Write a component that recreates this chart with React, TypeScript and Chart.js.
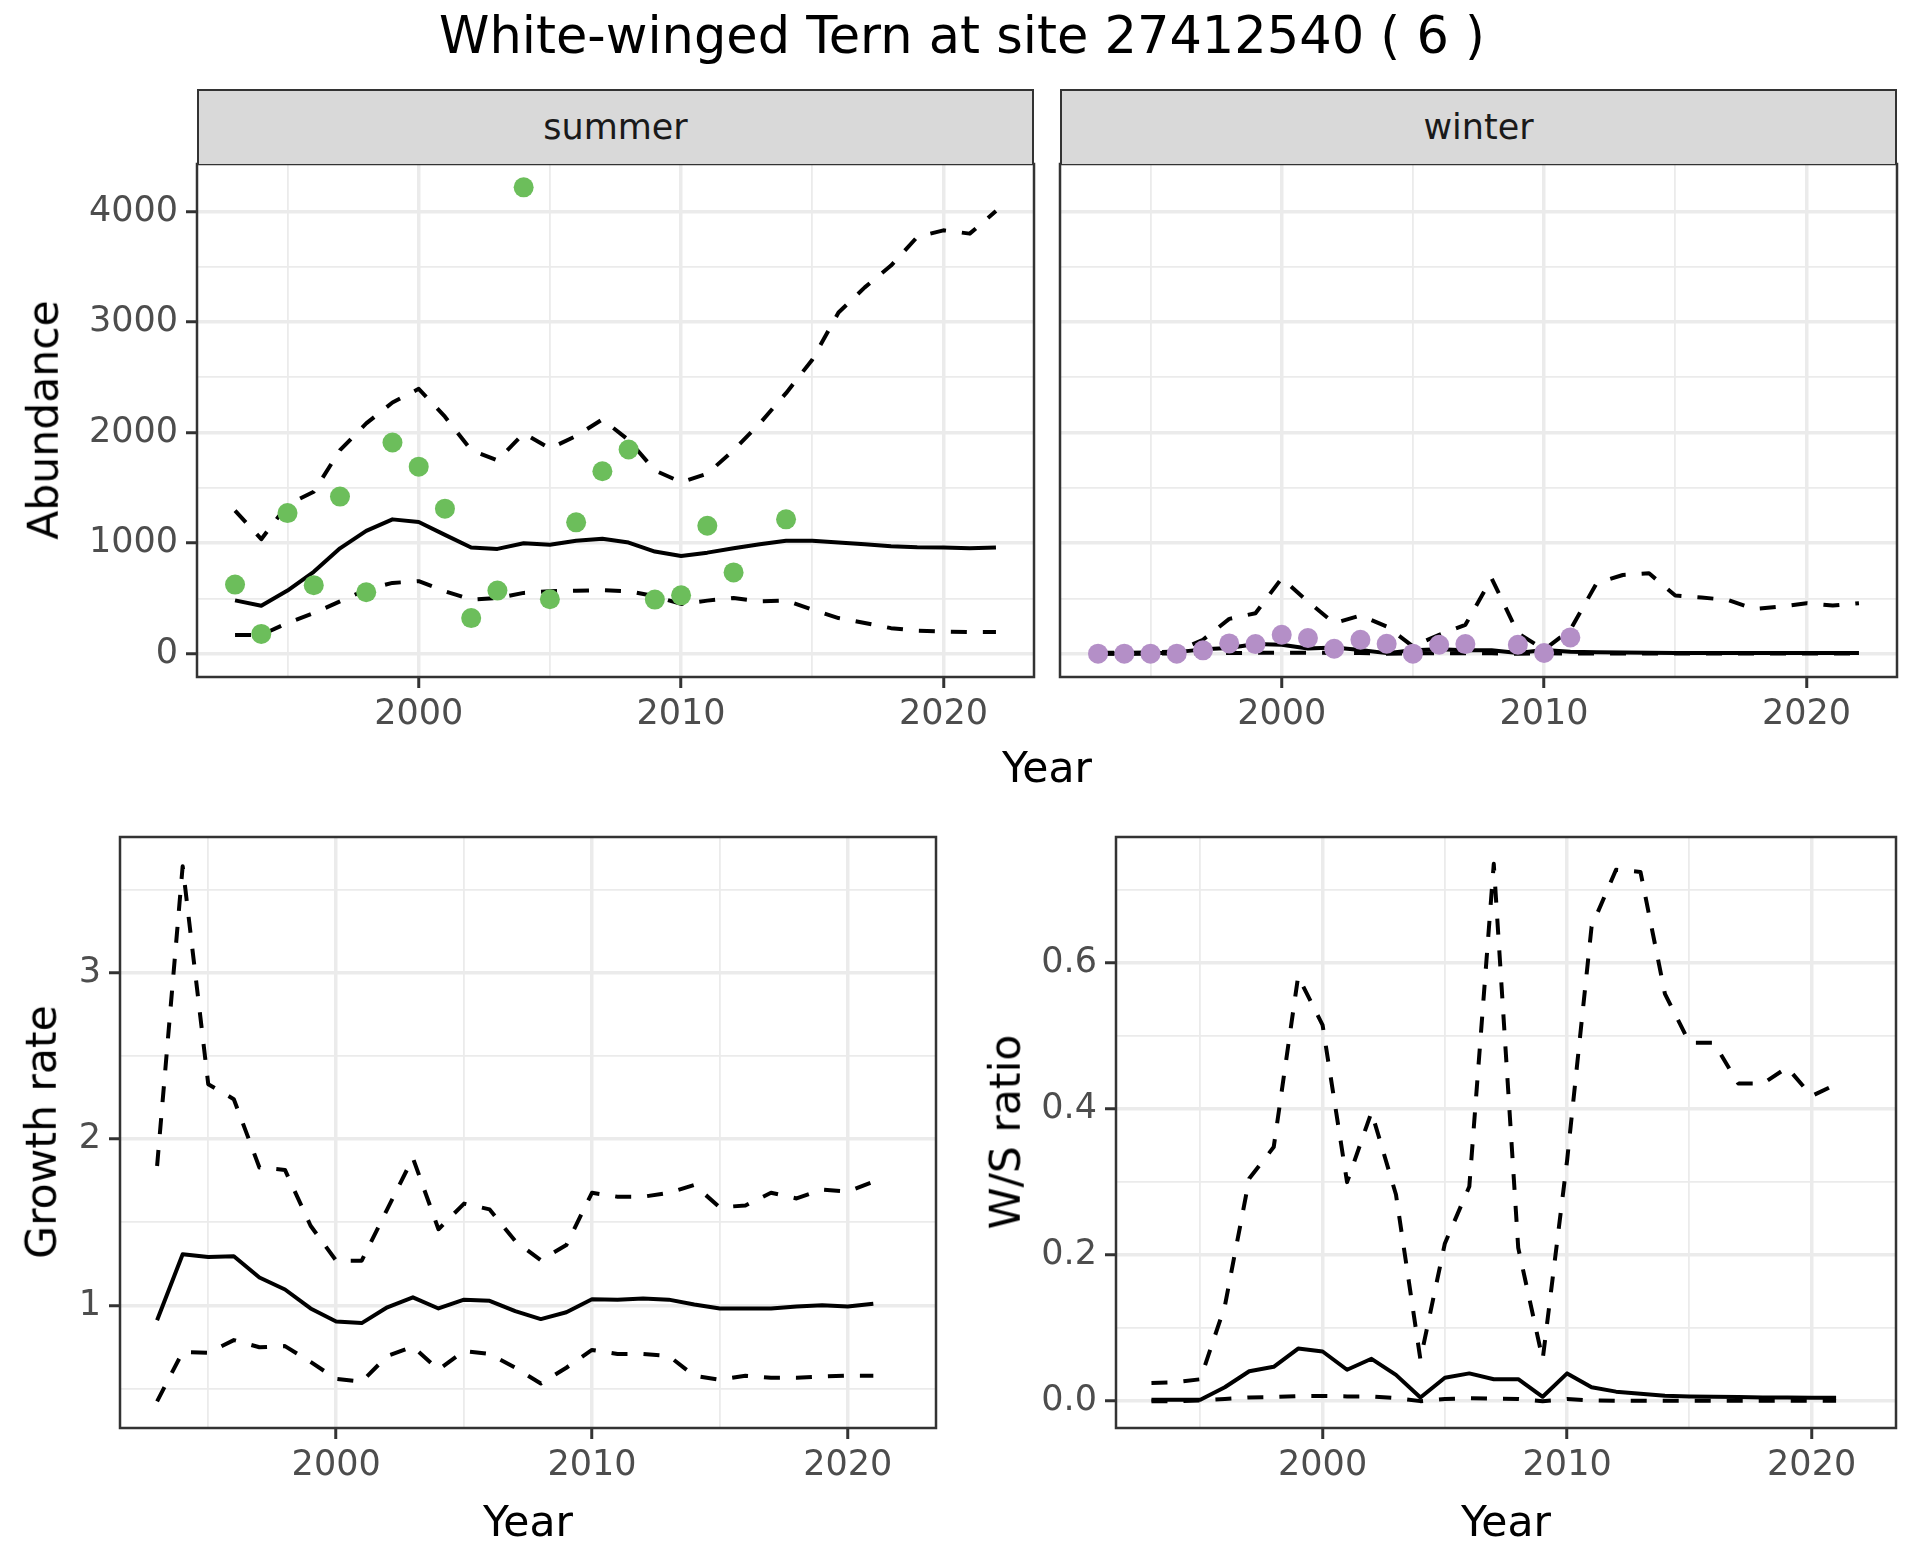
import React, { useEffect, useRef } from "react";
import { Chart, registerables } from "chart.js";

Chart.register(...registerables);

// ---------------- data ----------------
const years = [1993, 1994, 1995, 1996, 1997, 1998, 1999, 2000, 2001, 2002, 2003, 2004, 2005, 2006, 2007, 2008, 2009, 2010, 2011, 2012, 2013, 2014, 2015, 2016, 2017, 2018, 2019, 2020, 2021, 2022];

const summerMean = [482, 434, 571, 741, 953, 1111, 1215, 1191, 1075, 960, 948, 999, 985, 1021, 1039, 1005, 924, 884, 914, 953, 990, 1021, 1021, 1005, 990, 972, 962, 960, 953, 960];
const summerLower = [170, 170, 277, 367, 473, 580, 640, 656, 565, 489, 504, 550, 565, 570, 575, 565, 520, 450, 480, 504, 473, 480, 398, 322, 277, 231, 207, 200, 196, 196];
const summerUpper = [1294, 1036, 1346, 1465, 1841, 2083, 2272, 2396, 2144, 1841, 1749, 1993, 1856, 1969, 2120, 1932, 1658, 1552, 1628, 1841, 2083, 2357, 2660, 3086, 3314, 3511, 3770, 3830, 3800, 4004];
const summerObsYears = [1993, 1994, 1995, 1996, 1997, 1998, 1999, 2000, 2001, 2002, 2003, 2004, 2005, 2006, 2007, 2008, 2009, 2010, 2011, 2012, 2014];
const summerObs = [625, 179, 1272, 620, 1421, 556, 1910, 1692, 1312, 322, 571, 4219, 492, 1188, 1650, 1847, 489, 528, 1157, 735, 1215];

const winterMean = [1, 1, 2, 14, 39, 52, 87, 81, 46, 56, 34, 5, 32, 39, 31, 30, 6, 34, 17, 12, 10, 8, 7, 6, 5, 5, 5, 5, 5, 5];
const winterLower = [0, 0, 1, 2, 4, 6, 8, 9, 8, 7, 5, 0, 3, 4, 4, 3, 0, 3, 1, 1, 1, 1, 1, 1, 1, 1, 1, 1, 1, 1];
const winterUpper = [8, 8, 10, 20, 126, 315, 366, 682, 471, 276, 345, 246, 66, 171, 261, 682, 186, 36, 216, 637, 712, 727, 526, 508, 486, 405, 426, 456, 435, 456];
const winterObsYears = [1993, 1994, 1995, 1996, 1997, 1998, 1999, 2000, 2001, 2002, 2003, 2004, 2005, 2006, 2007, 2009, 2010, 2011];
const winterObs = [0, 0, 0, 0, 30, 93, 87, 171, 141, 45, 126, 90, 0, 81, 87, 81, 6, 147];

const rateYears = [1993, 1994, 1995, 1996, 1997, 1998, 1999, 2000, 2001, 2002, 2003, 2004, 2005, 2006, 2007, 2008, 2009, 2010, 2011, 2012, 2013, 2014, 2015, 2016, 2017, 2018, 2019, 2020, 2021];
const growthMean = [0.912, 1.309, 1.292, 1.297, 1.169, 1.097, 0.983, 0.905, 0.895, 0.99, 1.05, 0.983, 1.036, 1.029, 0.967, 0.919, 0.96, 1.038, 1.036, 1.043, 1.036, 1.007, 0.983, 0.983, 0.983, 0.995, 1.002, 0.995, 1.012];
const growthUpper = [1.839, 3.64, 2.33, 2.24, 1.83, 1.815, 1.48, 1.27, 1.27, 1.58, 1.887, 1.459, 1.613, 1.578, 1.388, 1.273, 1.364, 1.678, 1.654, 1.654, 1.678, 1.725, 1.59, 1.602, 1.678, 1.644, 1.697, 1.685, 1.744];
const growthLower = [0.425, 0.722, 0.717, 0.793, 0.75, 0.757, 0.662, 0.56, 0.543, 0.698, 0.753, 0.615, 0.727, 0.71, 0.627, 0.532, 0.627, 0.734, 0.71, 0.71, 0.698, 0.579, 0.555, 0.579, 0.567, 0.567, 0.574, 0.579, 0.579];

const wsMean = [0.002, 0.002, 0.002, 0.019, 0.041, 0.047, 0.072, 0.068, 0.043, 0.058, 0.036, 0.005, 0.032, 0.038, 0.03, 0.03, 0.006, 0.038, 0.019, 0.013, 0.01, 0.0075, 0.0065, 0.006, 0.0055, 0.005, 0.005, 0.0045, 0.0045];
const wsUpper = [0.025, 0.026, 0.03, 0.13, 0.305, 0.348, 0.582, 0.515, 0.3, 0.396, 0.283, 0.057, 0.216, 0.294, 0.736, 0.21, 0.057, 0.33, 0.65, 0.728, 0.725, 0.558, 0.491, 0.491, 0.435, 0.435, 0.457, 0.418, 0.434];
const wsLower = [0, 0, 0.001, 0.003, 0.005, 0.0055, 0.007, 0.007, 0.0065, 0.0065, 0.004, 0, 0.003, 0.004, 0.0035, 0.003, 0, 0.003, 0.001, 0.0005, 0.0005, 0.0005, 0.0005, 0.0005, 0.0005, 0.0005, 0.0005, 0.0005, 0.0005];

// tick labels (major) and grid positions (major + minor)
const yearTicks = [2000, 2010, 2020];
const yearGrid = [1995, 2000, 2005, 2010, 2015, 2020];
const abundanceTicks = [0, 1000, 2000, 3000, 4000];
const abundanceGrid = [0, 500, 1000, 1500, 2000, 2500, 3000, 3500, 4000];
const growthTicks = [1, 2, 3];
const growthGrid = [0.5, 1, 1.5, 2, 2.5, 3, 3.5];
const ratioTicks = [0, 0.2, 0.4, 0.6];
const ratioGrid = [0, 0.1, 0.2, 0.3, 0.4, 0.5, 0.6, 0.7];

// ---------------- styling ----------------
const FONT = "'DejaVu Sans', sans-serif";
const W = 1920;
const H = 1560;
const X_MIN = 1991.55;
const X_MAX = 2023.45;
const Y_AXIS_W = 140;
const X_AXIS_H = 90;
const GREEN = "#6CBE5B";
const PURPLE = "#B48FC7";

type Rect = { L: number; T: number; R: number; B: number };

const RECT_SUMMER: Rect = { L: 197, T: 164, R: 1034, B: 677 };
const RECT_WINTER: Rect = { L: 1060, T: 164, R: 1897, B: 677 };
const RECT_GROWTH: Rect = { L: 120, T: 837, R: 936, B: 1428 };
const RECT_RATIO: Rect = { L: 1116, T: 837, R: 1896, B: 1428 };

const near = (v: number, list: number[]) => list.some((t) => Math.abs(t - v) < 1e-6);

const borderPlugin = {
  id: "panelBorder",
  afterDraw(chart: any) {
    const { ctx, chartArea: a } = chart;
    ctx.save();
    ctx.strokeStyle = "#333333";
    ctx.lineWidth = 2.5;
    ctx.strokeRect(a.left, a.top, a.right - a.left, a.bottom - a.top);
    ctx.restore();
  },
};

function lineDs(xs: number[], ys: number[], dashed: boolean) {
  return {
    type: "line",
    data: xs.map((x, i) => ({ x, y: ys[i] })),
    borderColor: "#000000",
    borderWidth: 4,
    borderDash: dashed ? [16, 16] : [],
    borderJoinStyle: "round",
    pointRadius: 0,
    fill: false,
    tension: 0,
    order: 1,
  };
}

function pointDs(xs: number[], ys: number[], color: string) {
  return {
    type: "line",
    data: xs.map((x, i) => ({ x, y: ys[i] })),
    showLine: false,
    pointRadius: 10,
    pointBackgroundColor: color,
    pointBorderWidth: 0,
    borderColor: color,
    order: 0,
  };
}

type YSpec = { min: number; max: number; grid: number[]; labels: number[]; fmt: (v: number) => string; show: boolean };

function makeConfig(rect: Rect, datasets: any[], y: YSpec) {
  return {
    type: "line",
    data: { datasets },
    plugins: [borderPlugin],
    options: {
      responsive: false,
      animation: false,
      devicePixelRatio: 1,
      layout: {
        padding: { left: rect.L - Y_AXIS_W, top: rect.T, right: W - rect.R, bottom: H - rect.B - X_AXIS_H },
      },
      plugins: { legend: { display: false }, tooltip: { enabled: false }, title: { display: false } },
      scales: {
        x: {
          type: "linear",
          min: X_MIN,
          max: X_MAX,
          afterBuildTicks: (s: any) => {
            s.ticks = yearGrid.map((v) => ({ value: v }));
          },
          afterFit: (s: any) => {
            s.height = X_AXIS_H;
          },
          border: { display: false },
          grid: {
            color: "#EBEBEB",
            lineWidth: (c: any) => (c.tick && near(c.tick.value, yearTicks) ? 3.5 : 1.8),
            drawTicks: true,
            tickLength: 11,
            tickWidth: 3,
            tickColor: (c: any) => (c.tick && near(c.tick.value, yearTicks) ? "#333333" : "rgba(0,0,0,0)"),
          },
          ticks: {
            autoSkip: false,
            maxRotation: 0,
            minRotation: 0,
            padding: 6,
            color: "#4D4D4D",
            font: { family: FONT, size: 35 },
            callback: (v: any) => (near(Number(v), yearTicks) ? String(Math.round(Number(v))) : ""),
          },
        },
        y: {
          type: "linear",
          min: y.min,
          max: y.max,
          afterBuildTicks: (s: any) => {
            s.ticks = y.grid.map((v) => ({ value: v }));
          },
          afterFit: (s: any) => {
            s.width = Y_AXIS_W;
          },
          border: { display: false },
          grid: {
            color: "#EBEBEB",
            lineWidth: (c: any) => (c.tick && near(c.tick.value, y.labels) ? 3.5 : 1.8),
            drawTicks: y.show,
            tickLength: 11,
            tickWidth: 3,
            tickColor: (c: any) => (c.tick && near(c.tick.value, y.labels) ? "#333333" : "rgba(0,0,0,0)"),
          },
          ticks: {
            display: y.show,
            autoSkip: false,
            padding: 8,
            color: "#4D4D4D",
            font: { family: FONT, size: 35 },
            callback: (v: any) => (near(Number(v), y.labels) ? y.fmt(Number(v)) : ""),
          },
        },
      },
    },
  };
}

const abundanceY = {
  min: -211,
  max: 4430,
  grid: abundanceGrid,
  labels: abundanceTicks,
  fmt: (v: number) => String(Math.round(v)),
};

function ChartLayer({ config }: { config: any }) {
  const ref = useRef<HTMLCanvasElement | null>(null);
  useEffect(() => {
    if (!ref.current) return;
    const chart = new Chart(ref.current, config);
    return () => chart.destroy();
  }, [config]);
  return (
    <canvas
      ref={ref}
      width={W}
      height={H}
      style={{ position: "absolute", left: 0, top: 0, width: W, height: H }}
    />
  );
}

const summerConfig = makeConfig(
  RECT_SUMMER,
  [
    pointDs(summerObsYears, summerObs, GREEN),
    lineDs(years, summerMean, false),
    lineDs(years, summerLower, true),
    lineDs(years, summerUpper, true),
  ],
  { ...abundanceY, show: true }
);

const winterConfig = makeConfig(
  RECT_WINTER,
  [
    pointDs(winterObsYears, winterObs, PURPLE),
    lineDs(years, winterMean, false),
    lineDs(years, winterLower, true),
    lineDs(years, winterUpper, true),
  ],
  { ...abundanceY, show: false }
);

const growthConfig = makeConfig(
  RECT_GROWTH,
  [lineDs(rateYears, growthMean, false), lineDs(rateYears, growthLower, true), lineDs(rateYears, growthUpper, true)],
  { min: 0.265, max: 3.815, grid: growthGrid, labels: growthTicks, fmt: (v: number) => String(Math.round(v)), show: true }
);

const ratioConfig = makeConfig(
  RECT_RATIO,
  [lineDs(rateYears, wsMean, false), lineDs(rateYears, wsLower, true), lineDs(rateYears, wsUpper, true)],
  { min: -0.0368, max: 0.7728, grid: ratioGrid, labels: ratioTicks, fmt: (v: number) => v.toFixed(1), show: true }
);

const textBase: React.CSSProperties = {
  position: "absolute",
  fontFamily: FONT,
  lineHeight: 1,
  whiteSpace: "nowrap",
  transform: "translate(-50%, -50%)",
};

function Strip({ rect, label }: { rect: Rect; label: string }) {
  return (
    <div
      style={{
        position: "absolute",
        left: rect.L,
        top: 89,
        width: rect.R - rect.L,
        height: rect.T - 89,
        boxSizing: "border-box",
        background: "#D9D9D9",
        border: "2px solid #333333",
        borderBottom: "none",
        display: "flex",
        alignItems: "center",
        justifyContent: "center",
        fontFamily: FONT,
        fontSize: 35,
        color: "#1A1A1A",
        lineHeight: 1,
      }}
    >
      {label}
    </div>
  );
}

export default function App() {
  return (
    <div
      style={{
        position: "absolute",
        left: 0,
        top: 0,
        width: W,
        height: H,
        background: "#FFFFFF",
        overflow: "hidden",
      }}
    >
      <ChartLayer config={summerConfig} />
      <ChartLayer config={winterConfig} />
      <ChartLayer config={growthConfig} />
      <ChartLayer config={ratioConfig} />

      <div style={{ ...textBase, left: 962, top: 35, fontSize: 51, color: "#000000" }}>
        White-winged Tern at site 27412540 ( 6 )
      </div>

      <Strip rect={RECT_SUMMER} label="summer" />
      <Strip rect={RECT_WINTER} label="winter" />

      <div style={{ ...textBase, left: 1047, top: 768, fontSize: 42.5, color: "#000000" }}>Year</div>
      <div style={{ ...textBase, left: 528, top: 1522, fontSize: 42.5, color: "#000000" }}>Year</div>
      <div style={{ ...textBase, left: 1506, top: 1522, fontSize: 42.5, color: "#000000" }}>Year</div>

      <div
        style={{ ...textBase, left: 44, top: 420, fontSize: 42.5, color: "#000000", transform: "translate(-50%, -50%) rotate(-90deg)" }}
      >
        Abundance
      </div>
      <div
        style={{ ...textBase, left: 42, top: 1132, fontSize: 42.5, color: "#000000", transform: "translate(-50%, -50%) rotate(-90deg)" }}
      >
        Growth rate
      </div>
      <div
        style={{ ...textBase, left: 1006, top: 1132, fontSize: 42.5, color: "#000000", transform: "translate(-50%, -50%) rotate(-90deg)" }}
      >
        W/S ratio
      </div>
    </div>
  );
}
